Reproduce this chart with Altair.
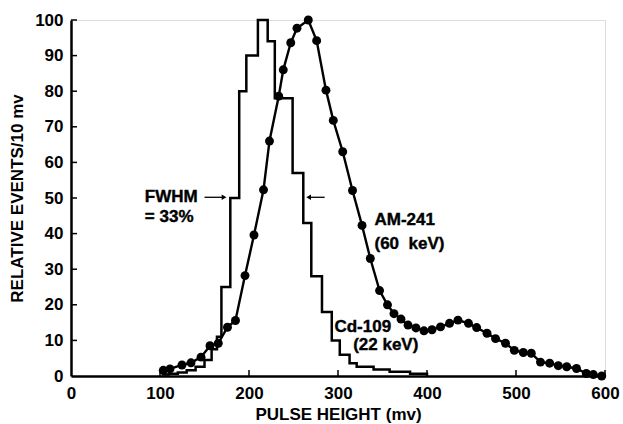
import altair as alt
import pandas as pd

# Cd-109 histogram: bin left edges (mv) and heights (relative events / 10 mv)
cd_edges = [102, 110, 120, 130, 140, 150, 158, 164, 169, 179, 189, 197, 210, 221, 229,
            249, 261, 270, 282, 293, 302, 313, 321, 340, 358, 381, 400]
cd_heights = [0.4, 0.6, 1.0, 1.6, 2.6, 4.5, 7.5, 11, 25, 50, 80, 90, 100, 94, 78,
              57, 43, 28, 18, 10, 6, 3.6, 2.6, 1.8, 1.2, 0.6, 0]

# Am-241 spectrum points (mv, relative events)
am_x = [103.7, 111.2, 124.7, 134.8, 146.1, 156.2, 165.5, 175.8, 184.8, 195.5, 205.6,
        216.3, 223.0, 233.4, 238.5, 246.9, 253.9, 266.6, 276.0, 286.5, 294.7, 305.3,
        316.3, 327.0, 336.3, 346.7, 355.6, 362.9, 370.8, 378.7, 387.6, 396.6, 405.6,
        415.2, 425.3, 434.8, 446.6, 455.8, 467.4, 477.0, 488.2, 498.1, 508.2, 517.2,
        527.5, 537.8, 547.5, 557.0, 568.0, 579.0, 586.9, 596.3]
am_y = [1.6, 2.0, 3.1, 3.7, 5.3, 8.5, 9.2, 13.7, 15.6, 28.2, 39.6,
        52.3, 66.0, 78.6, 86.0, 93.6, 97.7, 100.0, 94.2, 80.3, 71.8, 63.0,
        52.1, 42.3, 33.0, 24.0, 20.0, 17.5, 16.0, 14.3, 13.5, 12.7, 13.0,
        13.8, 14.8, 15.7, 14.8, 13.6, 12.0, 10.5, 9.2, 7.2, 6.6, 6.4,
        3.9, 3.6, 2.9, 2.6, 2.1, 0.7, 0.4, 0.0]

x_ticks = [0, 100, 200, 300, 400, 500, 600]
y_ticks = [0, 10, 20, 30, 40, 50, 60, 70, 80, 90, 100]

FONT = "Liberation Sans"
FS = 17
W, H = 534, 356

cd_df = pd.DataFrame({"mv": cd_edges, "ev": cd_heights})
am_df = pd.DataFrame({"mv": am_x, "ev": am_y})

xs = alt.Scale(domain=[0, 600], nice=False, zero=False)
ys = alt.Scale(domain=[0, 100], nice=False, zero=False)

x_axis = alt.Axis(
    title="PULSE HEIGHT (mv)", values=x_ticks, ticks=False, grid=False,
    labelFont=FONT, labelFontSize=FS, labelFontWeight="bold", labelColor="black",
    labelPadding=9, titleFont=FONT, titleFontSize=FS, titleFontWeight="bold",
    titleColor="black", titlePadding=5, domainColor="black", domainWidth=2.5,
    labelFlush=False, labelOverlap=False)
y_axis = alt.Axis(
    title="RELATIVE EVENTS/10 mv", values=y_ticks, ticks=False, grid=False,
    labelFont=FONT, labelFontSize=FS, labelFontWeight="bold", labelColor="black",
    labelPadding=8, titleFont=FONT, titleFontSize=FS, titleFontWeight="bold",
    titleColor="black", titlePadding=8, domainColor="black", domainWidth=2.5,
    labelFlush=False, labelOverlap=False)

X = alt.X("mv:Q", scale=xs, axis=x_axis)
Y = alt.Y("ev:Q", scale=ys, axis=y_axis)


def xd(v):
    return alt.X(datum=v, type="quantitative", scale=xs, axis=x_axis)


def yd(v):
    return alt.Y(datum=v, type="quantitative", scale=ys, axis=y_axis)


hist = alt.Chart(cd_df).mark_line(interpolate="step-after", color="black",
                                   strokeWidth=2.5).encode(x=X, y=Y)
am_line = alt.Chart(am_df).mark_line(color="black", strokeWidth=2.4).encode(x=X, y=Y)
am_pts = alt.Chart(am_df).mark_circle(color="black", size=80, opacity=1).encode(x=X, y=Y)

xt = alt.Chart(pd.DataFrame({"mv": x_ticks[1:]})).mark_rule(color="black", strokeWidth=1.5).encode(
    x=X, y=alt.value(H), y2=alt.value(H - 6))
yt = alt.Chart(pd.DataFrame({"ev": y_ticks[1:]})).mark_rule(color="black", strokeWidth=1.5).encode(
    y=Y, x=alt.value(0), x2=alt.value(6))


def label(text, x, y):
    return alt.Chart().mark_text(text=text, align="left", baseline="middle", font=FONT,
                                 fontSize=FS, fontWeight="bold", color="black",
                                 stroke="black", strokeWidth=0.4).encode(x=xd(x), y=yd(y))


arrow1 = alt.Chart().mark_rule(color="black", strokeWidth=1.3).encode(
    x=xd(150), x2=alt.X2(datum=171), y=yd(50.2))
head1 = alt.Chart().mark_point(shape="triangle-right", filled=True, color="black",
                               size=30, opacity=1).encode(x=xd(172), y=yd(50.2))
arrow2 = alt.Chart().mark_rule(color="black", strokeWidth=1.3).encode(
    x=xd(269), x2=alt.X2(datum=285), y=yd(50.2))
head2 = alt.Chart().mark_point(shape="triangle-left", filled=True, color="black",
                               size=30, opacity=1).encode(x=xd(267), y=yd(50.2))

chart = alt.layer(
    hist, am_line, am_pts, xt, yt,
    label("FWHM", 83, 50.3), label("= 33%", 83, 44.7),
    label("AM-241", 341, 43.8), label("(60\u00a0 keV)", 341, 37.2),
    label("Cd-109", 296, 13.8), label("(22 keV)", 317, 8.7),
    arrow1, head1, arrow2, head2,
).properties(
    width=W, height=H,
    autosize=alt.AutoSizeParams(type="none"),
    padding={"left": 71, "top": 20, "right": 18, "bottom": 48},
).configure_view(stroke=None).configure(background="white")

chart.save("out.html", embed_options={"renderer": "svg", "actions": False})
